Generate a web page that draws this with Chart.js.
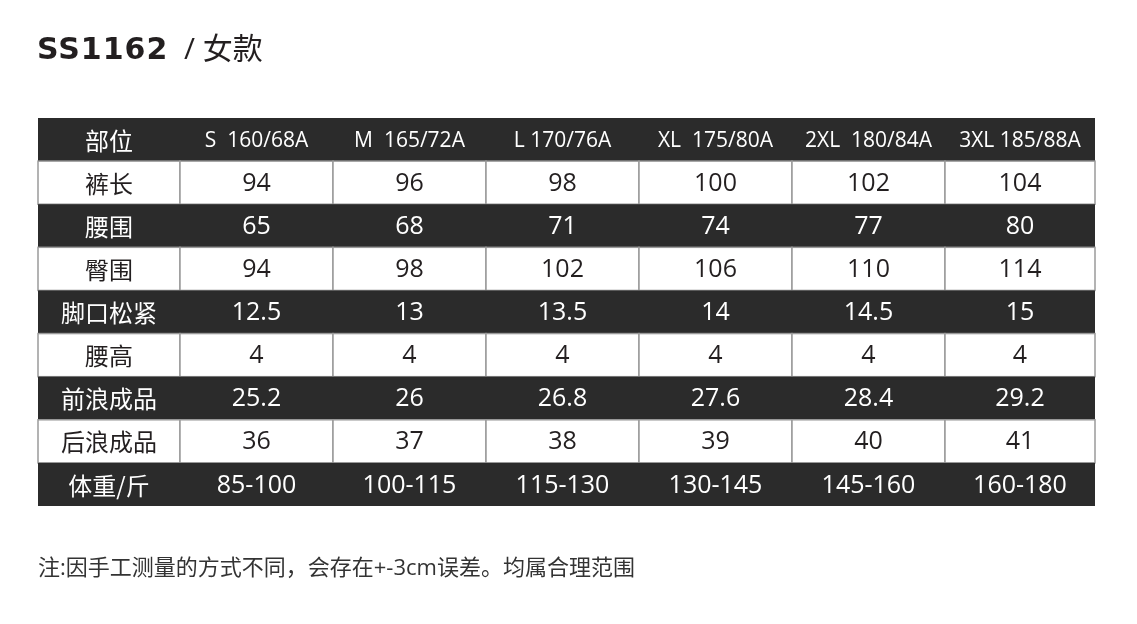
<!DOCTYPE html>
<html>
<head>
<meta charset="utf-8">
<script src="https://cdn.jsdelivr.net/npm/chart.js@4.4.0/dist/chart.umd.min.js"></script>
<style>
  body { margin: 0; background: #fff; font-family: "Open Sans", "Noto Sans CJK SC", sans-serif; }
  #wrap { position: relative; width: 1137px; height: 624px; }
  #title { position: absolute; left: 37px; top: 24px; font-size: 30px; color: #231f20; }
  #title b { font-family: "DejaVu Sans", "Open Sans", sans-serif; font-weight: bold; letter-spacing: 1px; }
  #note { position: absolute; left: 38px; top: 549px; font-size: 22px; color: #333; }
</style>
</head>
<body>
<div id="wrap">
  <canvas id="sizeChart" width="1137" height="624"></canvas>
  <div id="title"><b>SS1162</b> &nbsp;/ 女款</div>
  <div id="note">注:因手工测量的方式不同，会存在+-3cm误差。均属合理范围</div>
</div>
<script>
// Table data
const headers = ['部位', 'S  160/68A', 'M  165/72A', 'L 170/76A', 'XL  175/80A', '2XL  180/84A', '3XL 185/88A'];
const rowLabels = ['裤长', '腰围', '臀围', '脚口松紧', '腰高', '前浪成品', '后浪成品', '体重/斤'];
const pantsLength = ['94', '96', '98', '100', '102', '104'];
const waist = ['65', '68', '71', '74', '77', '80'];
const hip = ['94', '98', '102', '106', '110', '114'];
const hem = ['12.5', '13', '13.5', '14', '14.5', '15'];
const waistHeight = ['4', '4', '4', '4', '4', '4'];
const frontRise = ['25.2', '26', '26.8', '27.6', '28.4', '29.2'];
const backRise = ['36', '37', '38', '39', '40', '41'];
const weight = ['85-100', '100-115', '115-130', '130-145', '145-160', '160-180'];
const rowValues = [pantsLength, waist, hip, hem, waistHeight, frontRise, backRise, weight];

// column boundaries in x-scale units
const colEdges = [0, 142, 295, 448, 601, 754, 907, 1057];

const tablePlugin = {
    id: 'tablePlugin',
    afterDraw: (chart) => {
        const ctx = chart.ctx;
        const xs = chart.scales.x, ys = chart.scales.y;
        const rows = [headers].concat(rowLabels.map((l, i) => [l].concat(rowValues[i])));
        rows.forEach((row, r) => {
            const top = ys.getPixelForValue(r), bot = ys.getPixelForValue(r + 1);
            const dark = r % 2 === 0;
            row.forEach((txt, c) => {
                const left = xs.getPixelForValue(colEdges[c]), right = xs.getPixelForValue(colEdges[c + 1]);
                ctx.fillStyle = dark ? '#2b2b2b' : '#ffffff';
                ctx.fillRect(left, top, right - left, bot - top);
                if (!dark) {
                    ctx.strokeStyle = '#9a9a9a';
                    ctx.lineWidth = 1.5;
                    ctx.strokeRect(left, top, right - left, bot - top);
                }
                ctx.fillStyle = dark ? '#ffffff' : '#231f20';
                ctx.textAlign = 'center';
                ctx.textBaseline = 'middle';
                let font;
                if (c === 0) font = '24px "Noto Sans CJK SC", sans-serif';
                else if (r === 0) font = '21px "Open Sans", sans-serif';
                else font = '25px "Open Sans", sans-serif';
                ctx.font = font;
                ctx.fillText(txt, (left + right) / 2, (top + bot) / 2 + 1);
            });
        });
    }
};

var ctx = document.getElementById('sizeChart').getContext('2d');
var sizeChart = new Chart(ctx, {
    type: 'scatter',
    data: { datasets: [{ data: [] }] },
    plugins: [tablePlugin],
    options: {
        responsive: false,
        animation: false,
        layout: { padding: { left: 38, right: 42, top: 118, bottom: 118 } },
        scales: {
            x: { type: 'linear', min: 0, max: 1057, display: false },
            y: { type: 'linear', min: 0, max: 9, reverse: true, display: false }
        },
        plugins: { legend: { display: false }, tooltip: { enabled: false } }
    }
});
</script>
</body>
</html>
